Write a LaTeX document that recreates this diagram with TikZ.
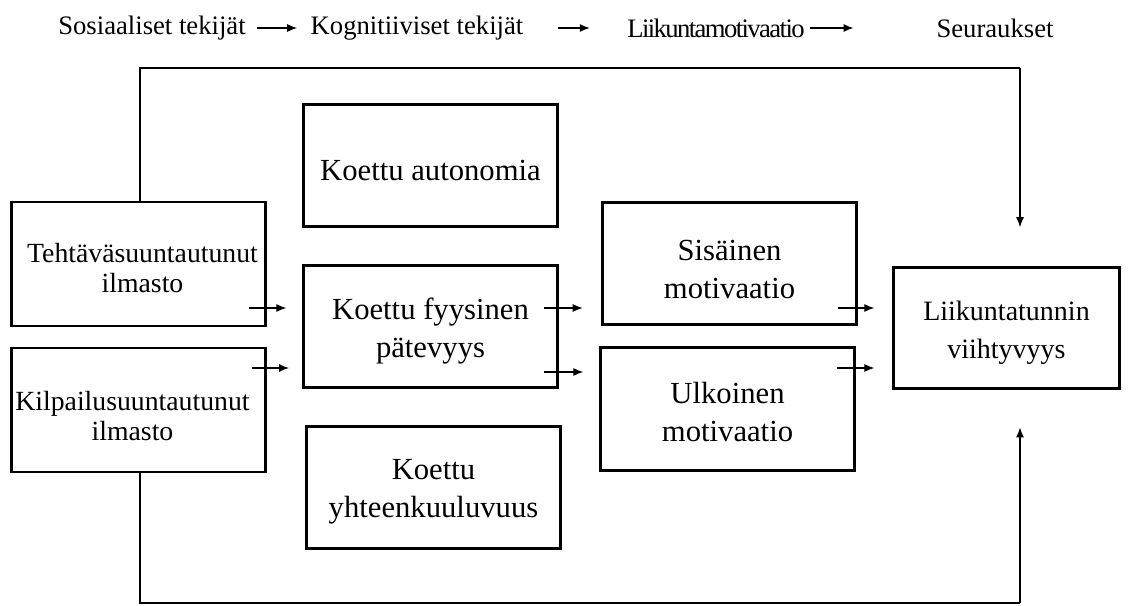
\documentclass[tikz,border=0pt]{standalone}
\usepackage{fontspec}
\setmainfont{Liberation Serif}
\newfontfamily\tightserif[LetterSpace=-6]{Liberation Serif}
\usetikzlibrary{arrows.meta,calc}

\definecolor{modelblack}{RGB}{0, 0, 0}
% strut that pushes the first line down a little
\newcommand{\toplift}[1]{\rule{0pt}{#1}}

\begin{document}
\begin{tikzpicture}[x=0.75pt, y=-0.75pt,
    box/.style={draw=modelblack, line width=2.2pt, align=center, inner sep=2pt},
    sidebox/.style={box, minimum width=190pt, minimum height=93pt,
      font=\fontsize{20.8}{22.5}\selectfont},
    midbox/.style={box, minimum width=190pt, minimum height=92pt,
      font=\fontsize{23}{28.5}\selectfont},
    headtext/.style={font=\fontsize{20}{22}\selectfont, inner sep=0pt},
    conn/.style={draw=modelblack, line width=0.9pt, -{Latex[length=7.5pt,width=6pt]}},
    loopline/.style={draw=modelblack, line width=0.9pt}]
        \useasboundingbox (0,0) rectangle (1145,606);

        % header
        \node[headtext] (hsos) at (152,28) {Sosiaaliset tekijät};
        \node[headtext] (hkog) at (417,28) {Kognitiiviset tekijät};
        \node[headtext] (hlii) at (716,28) {\tightserif Liikuntamotivaatio};
        \node[headtext] (hseu) at (995,28) {Seuraukset};
        \draw[conn, shorten <=8pt, shorten >=10pt] (hsos) -- (hkog);
        \draw[conn, shorten <=26pt, shorten >=28pt] (hkog) -- (hlii);
        \draw[conn, shorten <=4pt, shorten >=62pt] (hlii) -- (hseu);

        % social factors
        \node[sidebox] (teht) at (138.5,264)
          {\toplift{21pt}\hspace*{6pt}Tehtäväsuuntautunut\\\hspace*{6pt}ilmasto};
        \node[sidebox] (kilp) at (138.5,410)
          {\toplift{23pt}\hspace*{-9pt}Kilpailusuuntautunut\\\hspace*{-9pt}ilmasto};

        % cognitive factors
        \node[midbox] (auto) at (430.5,165.5) {\toplift{23pt}Koettu autonomia};
        \node[midbox] (pate) at (430.5,326.5) {\toplift{23pt}Koettu fyysinen\\pätevyys};
        \node[midbox] (yhte) at (433.5,487.5) {\toplift{21pt}Koettu\\yhteenkuuluvuus};

        % motivation
        \node[midbox] (sisa) at (729.5,263.5) {\toplift{24pt}Sisäinen\\motivaatio};
        \node[midbox] (ulko) at (727.5,409) {\toplift{21pt}Ulkoinen\\motivaatio};

        % outcome
        \node[box, minimum width=170pt, minimum height=91pt,
          font=\fontsize{21}{28.5}\selectfont] (viih) at (1006.5,328)
          {\toplift{22pt}Liikuntatunnin\\viihtyvyys};

        % short arrows between the columns
        \coordinate (rowA) at (0,308);
        \coordinate (rowB) at (0,370);
        \draw[conn] ([xshift=-13.5pt]teht.east |- rowA) -- ([xshift=-12pt]pate.west |- rowA);
        \draw[conn] ([xshift=-11pt]kilp.east |- 0,368) -- ([xshift=-10pt]pate.west |- 0,368);
        \draw[conn] ([xshift=-11pt]pate.east |- rowA) -- ([xshift=-14pt]sisa.west |- rowA);
        \draw[conn] ([xshift=-11pt]pate.east |- 0,372) -- ([xshift=-12pt]ulko.west |- 0,372);
        \draw[conn] ([xshift=-15pt]sisa.east |- rowA) -- ([xshift=-13pt]viih.west |- rowA);
        \draw[conn] ([xshift=-14pt]ulko.east |- 0,368) -- ([xshift=-13pt]viih.west |- 0,368);

        % direct paths round the model
        \coordinate (topL) at (140,68);
        \coordinate (topR) at (1020,68);
        \coordinate (botL) at (140,603);
        \coordinate (botR) at (1020,603);
        \draw[loopline] (teht.north -| topL) -- (topL) -- (topR);
        \draw[conn] (topR) -- ([yshift=29pt]viih.north -| topR);
        \draw[loopline] (kilp.south -| botL) -- (botL) -- (botR);
        \draw[conn] (botR) -- ([yshift=-28pt]viih.south -| botR);
      \end{tikzpicture}
\end{document}
